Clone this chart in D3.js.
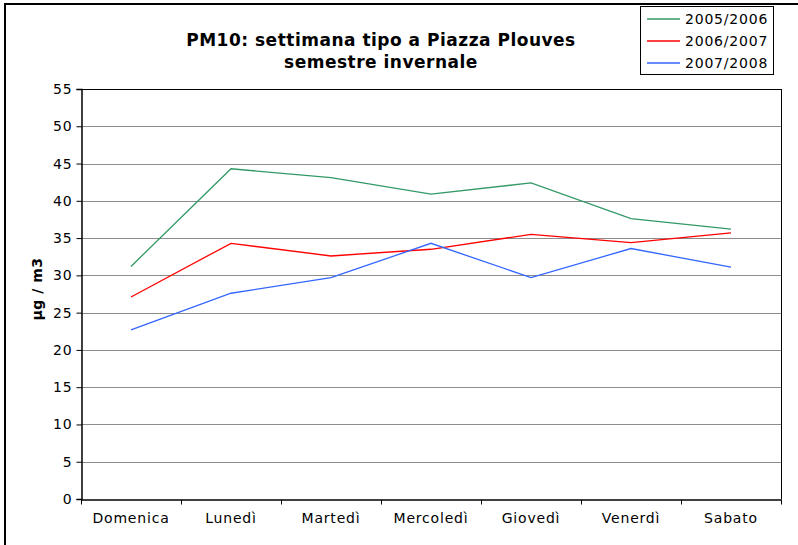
<!DOCTYPE html>
<html>
<head>
<meta charset="utf-8">
<script src="https://cdn.jsdelivr.net/npm/d3@7"></script>
<style>
  html, body { margin: 0; padding: 0; background: #fff; }
  text { font-family: "DejaVu Sans", Verdana, sans-serif; }
</style>
</head>
<body>
<div id="chart"></div>
<script>
const days = ["Domenica", "Lunedì", "Martedì", "Mercoledì", "Giovedì", "Venerdì", "Sabato"];
const seriesNames = ["2005/2006", "2006/2007", "2007/2008"];
const v0506 = [31.2, 44.3, 43.1, 40.9, 42.4, 37.6, 36.2];
const v0607 = [27.1, 34.3, 32.6, 33.5, 35.5, 34.4, 35.7];
const v0708 = [22.7, 27.6, 29.7, 34.3, 29.7, 33.6, 31.1];
const yTicks = [0, 5, 10, 15, 20, 25, 30, 35, 40, 45, 50, 55];
const colors = ["#339966", "#ff0000", "#3366ff"];

const width = 798, height = 545;
const margin = { top: 89, right: 17, bottom: 46, left: 81 };

const svg = d3.select("#chart").append("svg")
  .attr("width", width).attr("height", height);

// outer frame
svg.append("rect")
  .attr("x", 5).attr("y", 4).attr("width", 800).attr("height", 560)
  .attr("fill", "none").attr("stroke", "#000").attr("stroke-width", 2);

const x = d3.scaleBand().domain(days).range([margin.left, width - margin.right]);
const y = d3.scaleLinear().domain([0, 55]).range([height - margin.bottom, margin.top]);

// gridlines
svg.append("g").selectAll("line")
  .data(yTicks.filter(t => t > 0))
  .enter().append("line")
  .attr("x1", margin.left).attr("x2", width - margin.right)
  .attr("y1", d => Math.round(y(d)) + 0.5).attr("y2", d => Math.round(y(d)) + 0.5)
  .attr("stroke", d => d === 55 ? "#000" : "#8c8c8c").attr("stroke-width", 1);

// right border
svg.append("line")
  .attr("x1", width - margin.right + 0.5).attr("x2", width - margin.right + 0.5)
  .attr("y1", margin.top).attr("y2", height - margin.bottom)
  .attr("stroke", "#000");

// axes
const yAxis = d3.axisLeft(y).tickValues(yTicks).tickSize(5).tickPadding(4);
const gy = svg.append("g")
  .attr("transform", `translate(${margin.left + 0.5},0)`)
  .call(yAxis);
gy.selectAll("text").style("font-size", "14px").style("letter-spacing", "0.8px").attr("fill", "#000");

const xAxis = d3.axisBottom(x).tickSize(0).tickPadding(14);
const gx = svg.append("g")
  .attr("transform", `translate(0,${height - margin.bottom + 0.5})`)
  .call(xAxis);
gx.selectAll("text").style("font-size", "14px").style("letter-spacing", "0.8px").attr("fill", "#000");
// category separator ticks
gx.selectAll(".sep")
  .data(days.concat(["_end"]))
  .enter().append("line")
  .attr("x1", (d, i) => margin.left + i * x.step() + 0.5)
  .attr("x2", (d, i) => margin.left + i * x.step() + 0.5)
  .attr("y1", 0).attr("y2", 5)
  .attr("stroke", "#000");
[gx, gy].forEach(g => g.select(".domain").attr("stroke", "#000").attr("stroke-width", 1.5));

// lines
const line = d3.line()
  .x((d, i) => x(days[i]) + x.bandwidth() / 2)
  .y(d => y(d));

[v0506, v0607, v0708].forEach((vals, k) => {
  svg.append("path")
    .datum(vals)
    .attr("fill", "none")
    .attr("stroke", colors[k])
    .attr("stroke-width", 1.3)
    .attr("d", line);
});

// title
svg.append("text")
  .attr("x", 381).attr("y", 46).attr("text-anchor", "middle")
  .style("font-size", "17px").style("font-weight", "bold").style("letter-spacing", "0.5px")
  .text("PM10: settimana tipo a Piazza Plouves");
svg.append("text")
  .attr("x", 381).attr("y", 68).attr("text-anchor", "middle")
  .style("font-size", "17px").style("font-weight", "bold").style("letter-spacing", "0.5px")
  .text("semestre invernale");

// y label
svg.append("text")
  .attr("transform", "translate(42,289) rotate(-90)")
  .attr("text-anchor", "middle")
  .style("font-size", "14px").style("font-weight", "bold").style("letter-spacing", "0.5px")
  .text("µg / m3");

// legend
const lg = svg.append("g");
lg.append("rect")
  .attr("x", 640.5).attr("y", 6.5).attr("width", 133).attr("height", 68)
  .attr("fill", "#fff").attr("stroke", "#000").attr("stroke-width", 1);
seriesNames.forEach((name, i) => {
  const yy = 19 + i * 22;
  lg.append("line")
    .attr("x1", 647).attr("x2", 680).attr("y1", yy).attr("y2", yy)
    .attr("stroke", colors[i]).attr("stroke-width", 1.3);
  lg.append("text")
    .attr("x", 685).attr("y", yy + 5)
    .style("font-size", "14px").style("letter-spacing", "0.8px")
    .text(name);
});
</script>
</body>
</html>
